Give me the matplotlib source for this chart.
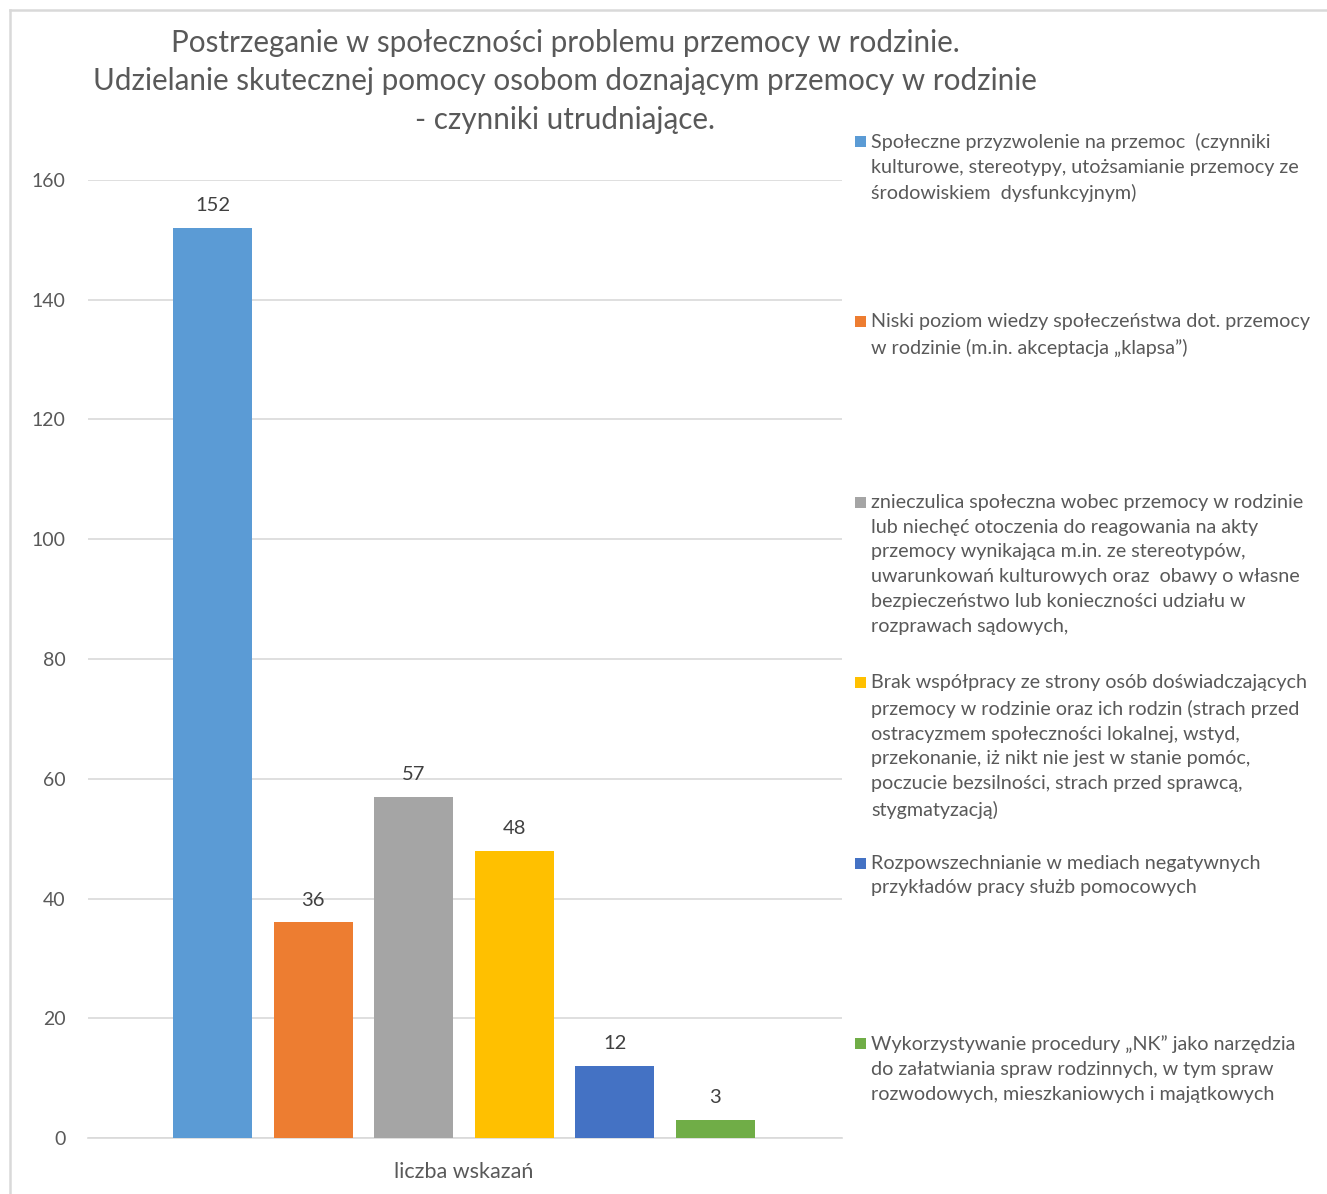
import matplotlib
matplotlib.use("Agg")
import matplotlib.pyplot as plt
from matplotlib.patches import Rectangle
from matplotlib.lines import Line2D

# data
categories = [
    "Społeczne przyzwolenie na przemoc  (czynniki\nkulturowe, stereotypy, utożsamianie przemocy ze\nśrodowiskiem  dysfunkcyjnym)",
    "Niski poziom wiedzy społeczeństwa dot. przemocy\nw rodzinie (m.in. akceptacja „klapsa”)",
    "znieczulica społeczna wobec przemocy w rodzinie\nlub niechęć otoczenia do reagowania na akty\nprzemocy wynikająca m.in. ze stereotypów,\nuwarunkowań kulturowych oraz  obawy o własne\nbezpieczeństwo lub konieczności udziału w\nrozprawach sądowych,",
    "Brak współpracy ze strony osób doświadczających\nprzemocy w rodzinie oraz ich rodzin (strach przed\nostracyzmem społeczności lokalnej, wstyd,\nprzekonanie, iż nikt nie jest w stanie pomóc,\npoczucie bezsilności, strach przed sprawcą,\nstygmatyzacją)",
    "Rozpowszechnianie w mediach negatywnych\nprzykładów pracy służb pomocowych",
    "Wykorzystywanie procedury „NK” jako narzędzia\ndo załatwiania spraw rodzinnych, w tym spraw\nrozwodowych, mieszkaniowych i majątkowych",
]
values = [152, 36, 57, 48, 12, 3]
colors = ["#5B9BD5", "#ED7D31", "#A5A5A5", "#FFC000", "#4472C4", "#70AD47"]
group_label = "liczba wskazań"
title = ("Postrzeganie w społeczności problemu przemocy w rodzinie.\n"
         "Udzielanie skutecznej pomocy osobom doznającym przemocy w rodzinie\n"
         "- czynniki utrudniające.")
yticks = [0, 20, 40, 60, 80, 100, 120, 140, 160]

plt.rcParams['font.family'] = ['Lato', 'DejaVu Sans']

W, H = 1327, 1194
fig = plt.figure(figsize=(W / 100, H / 100), dpi=100)


def fx(x):
    return x / W


def fy(y):
    return 1 - y / H


ax = fig.add_axes([fx(88), fy(1138), fx(842) - fx(88), fy(180) - fy(1138)])

xs = list(range(len(values)))
bars = ax.bar(xs, values, width=0.785, color=colors, zorder=3)
ax.bar_label(bars, labels=[str(v) for v in values], padding=10,
             fontsize=14.5, color="#404040")

ax.set_ylim(0, 160)
ax.set_xlim(-1.24, 6.26)
ax.set_yticks(yticks)
ax.set_xticks([2.5])
ax.set_xticklabels([group_label])
ax.tick_params(axis='both', length=0, labelsize=14, labelcolor="#595959")
ax.tick_params(axis='y', pad=16)
ax.tick_params(axis='x', pad=17, labelsize=15.5)
ax.yaxis.grid(True, color="#D9D9D9", linewidth=1.2, zorder=0)
for s in ["top", "right", "left"]:
    ax.spines[s].set_visible(False)
ax.spines["bottom"].set_color("#D9D9D9")
ax.spines["bottom"].set_linewidth(1.2)

# title
fig.text(fx(565), fy(29), title, ha="center", va="top", fontsize=21.3,
         color="#595959", linespacing=1.45)

# legend, evenly spaced like the original
leg_top = 133
leg_step = 180.4
for i, (lab, c) in enumerate(zip(categories, colors)):
    y0 = leg_top + i * leg_step
    fig.add_artist(Rectangle((fx(855), fy(y0 + 14)), fx(11), fy(0) - fy(11),
                             transform=fig.transFigure, color=c, lw=0))
    fig.text(fx(871), fy(y0), lab, ha="left", va="top", fontsize=14.2,
             color="#595959", linespacing=1.56)

# chart border (only left and top visible in the crop)
fig.add_artist(Line2D([fx(10), fx(10)], [fy(10), 0], transform=fig.transFigure,
                      color="#D9D9D9", lw=1.8))
fig.add_artist(Line2D([fx(10), 1], [fy(10), fy(10)], transform=fig.transFigure,
                      color="#D9D9D9", lw=1.8))

fig.savefig("out.png", dpi=100)
